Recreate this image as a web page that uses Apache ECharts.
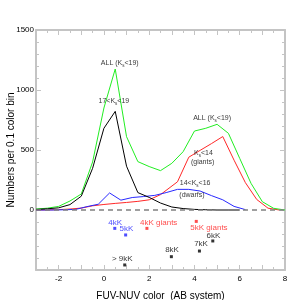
<!DOCTYPE html>
<html><head><meta charset="utf-8">
<script src="https://cdn.jsdelivr.net/npm/echarts@6/dist/echarts.min.js"></script>
<style>html,body{margin:0;padding:0;background:#fff}#c{width:300px;height:300px}</style>
</head><body><div id="c"></div>
<script>
// ---- data ----
const allX   = [-3,-2.5,-2,-1.5,-1,-0.5,0,0.5,1,1.5,2,2.5,3,3.5,4,4.5,5,5.5,6,6.5,7,7.5,8];
const allY   = [8,15,30,75,133,400,850,1175,611,403,362,328,389,486,658,681,714,639,430,222,69,14,0];
const faintX = [-3,-2.5,-2,-1.5,-1,-0.5,0,0.5,1,1.5,2,2.5,3,3.5,4,4.5,5,5.5,6];
const faintY = [5,10,18,45,115,347,681,822,365,145,105,58,25,12,5,2,0,0,0];
const giantX = [-3,-2.5,-2,-1.5,-1,-0.5,0,0.5,1,1.5,2,2.5,3.25,3.75,4.25,4.75,5.25,5.75,6.25,6.75,7.25,7.75];
const giantY = [0,1,3,8,16,35,46,55,63,72,85,128,235,440,497,553,612,415,228,88,15,0];
const dwarfX = [-3,-2.25,-1.75,-1.25,-0.75,-0.25,0.25,0.75,1.25,1.75,2.25,2.75,3.25,3.75,4.25,4.75,5.25,5.75,6.25];
const dwarfY = [0,0,2,5,28,48,142,82,104,112,122,145,172,172,158,120,85,30,3];

const blueStarNames = ['4kK','5kK'];
const blueStarX = [0.48, 0.96];
const blueStarY = [-153, -208];
const redStarNames = ['4kK giants','5kK giants'];
const redStarX = [1.9, 4.08];
const redStarY = [-153, -95];
const blackStarNames = ['> 9kK','8kK','7kK','6kK'];
const blackStarX = [0.92, 2.98, 4.22, 4.81];
const blackStarY = [-458, -389, -342, -258];

const xTicks = [-2,0,2,4,6,8];
const yTicks = [0,500,1000,1500];

// annotation texts (data coordinates of text centre)
const noteText = ['ALL (K{s|s}<19)','17<K{s|s}<19','ALL (K{s|s}<19)','K{s|s}<14','(giants)','14<K{s|s}<16','(dwarfs)',
                  '4kK','5kK','4kK giants','5kK giants','> 9kK','8kK','7kK','6kK'];
const noteX = [0.70,0.44,4.78,4.40,4.36,4.03,3.89, 0.50,0.99,2.42,4.64,0.81,3.01,4.29,4.84];
const noteY = [1225,908,767,475,396,225,125, -104,-158,-106,-150,-408,-333,-283,-217];
const noteColor = ['#000','#000','#000','#000','#000','#000','#000',
                   '#2020ff','#2020ff','#ff2020','#ff2020','#000','#000','#000','#000'];

// ---- chart ----
const FONT = "'Liberation Sans', Arial, Helvetica, sans-serif";
const AX = '#c4c4c4';
const zip = (xs, ys) => xs.map((x, i) => [x, ys[i]]);
const chart = echarts.init(document.getElementById('c'), null, {renderer: 'canvas'});

function xAx(pos, labels) {
  return {
    type: 'value', min: -3, max: 8, interval: 1, position: pos,
    axisLine: {onZero: false, lineStyle: {color: AX, width: 2}},
    axisTick: {inside: true, length: 5, lineStyle: {color: AX}},
    minorTick: {show: true, splitNumber: 2, length: 3, lineStyle: {color: AX}},
    splitLine: {show: false},
    axisLabel: labels ? {fontSize: 8, color: '#000', margin: 5, fontFamily: FONT,
      showMinLabel: true, showMaxLabel: true,
      formatter: v => xTicks.includes(v) ? String(v) : ''} : {show: false},
    name: labels ? 'FUV-NUV color  (AB system)' : '',
    nameLocation: 'middle', nameGap: 21, nameMoveOverlap: false,
    nameTextStyle: {fontSize: 10, color: '#000', fontFamily: FONT}
  };
}
function yAx(pos, labels) {
  return {
    type: 'value', min: -500, max: 1500, interval: 500, position: pos,
    axisLine: {onZero: false, lineStyle: {color: AX, width: 2}},
    axisTick: {inside: true, length: 5, lineStyle: {color: AX}},
    minorTick: {show: true, splitNumber: 5, length: 3, lineStyle: {color: AX}},
    splitLine: {show: false},
    axisLabel: labels ? {fontSize: 8, color: '#000', margin: 2, fontFamily: FONT,
      formatter: v => yTicks.includes(v) ? String(v) : ''} : {show: false},
    name: labels ? 'Numbers per 0.1 color bin' : '',
    nameLocation: 'middle', nameGap: 20, nameMoveOverlap: false,
    nameTextStyle: {fontSize: 10, color: '#000', fontFamily: FONT}
  };
}
const lineS = (data, color, z) => ({
  type: 'line', data, symbol: 'none', z, lineStyle: {color, width: 1}, silent: true
});
const starS = (xs, ys, color) => ({
  type: 'scatter', data: zip(xs, ys), symbol: 'rect', symbolSize: 3,
  itemStyle: {color}, silent: true, z: 5
});

const option = {
  animation: false,
  backgroundColor: '#fff',
  grid: {left: 36, right: 15, top: 30, bottom: 30, containLabel: false, outerBoundsMode: 'none'},
  xAxis: [xAx('bottom', true), xAx('top', false)],
  yAxis: [yAx('left', true), yAx('right', false)],
  series: [
    Object.assign(lineS(zip(giantX, giantY), '#ff2828', 2), {
      markLine: {silent: true, symbol: ['none', 'none'], label: {show: false},
        lineStyle: {type: [5, 4], color: '#808080', width: 1.5}, data: [{yAxis: 0}]}
    }),
    lineS(zip(dwarfX, dwarfY), '#2828ff', 3),
    lineS(zip(faintX, faintY), '#000000', 4),
    lineS(zip(allX, allY), '#22ee22', 3),
    starS(blueStarX, blueStarY, '#2020ff'),
    starS(redStarX, redStarY, '#ff2020'),
    starS(blackStarX, blackStarY, '#000'),
    {
      type: 'scatter', symbolSize: 0, silent: true, z: 6,
      data: noteText.map((t, i) => ({
        value: [noteX[i], noteY[i]],
        label: {show: true, position: [0, 0], align: 'center', verticalAlign: 'middle',
          formatter: t, color: noteColor[i], fontSize: i < 7 ? 7 : 8, fontFamily: FONT,
          rich: {s: {fontSize: 4.5, color: noteColor[i], fontFamily: FONT, padding: [6, 0, 0, 0]}}}
      }))
    }
  ]
};
chart.setOption(option);
</script>
</body></html>
